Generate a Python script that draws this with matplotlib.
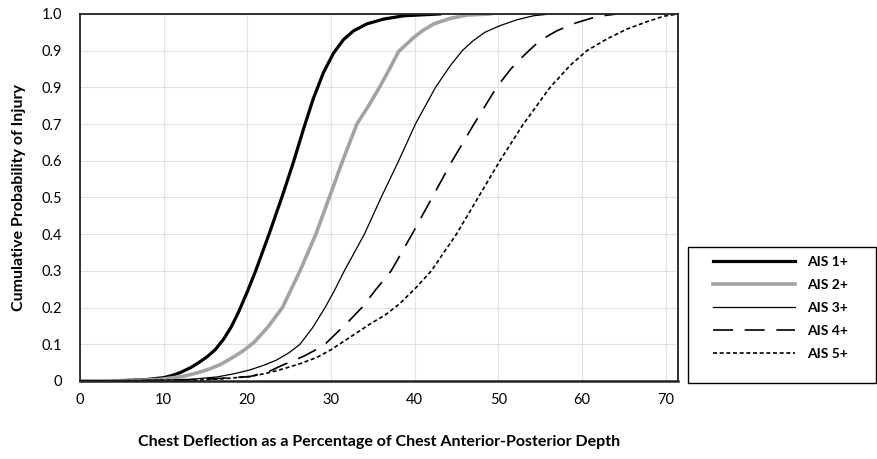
import matplotlib
matplotlib.use("Agg")
import matplotlib.pyplot as plt
from matplotlib.patches import Rectangle

# values (x = deflection %, p = cumulative probability)
ais1_x = [0, 5, 8, 10, 11, 12, 13.2, 14.2, 15.2, 16.2, 17.2, 18.1, 19.0, 20.0, 21.0, 22.6, 24.2,
          25.5, 26.7, 27.9, 29.1, 30.3, 31.5, 32.7, 34.3, 36.3, 38.7, 43]
ais1_p = [0, 0.001, 0.004, 0.009, 0.015, 0.023, 0.036, 0.05, 0.066, 0.086, 0.115, 0.148, 0.19, 0.243, 0.3,
          0.4, 0.505, 0.595, 0.685, 0.77, 0.84, 0.893, 0.93, 0.954, 0.973, 0.986, 0.995, 1.0]

ais2_x = [0, 6, 9.5, 12.2, 14, 15.4, 16.8, 18.1, 19.5, 20.8, 22.5, 24.2, 26.3, 28.2, 29.8, 31.4,
          33.1, 34.5, 35.8, 37.0, 38.1, 39.9, 41.0, 42.3, 44.3, 46.3, 49]
ais2_p = [0, 0.001, 0.004, 0.012, 0.022, 0.032, 0.045, 0.062, 0.082, 0.105, 0.148, 0.2, 0.3, 0.4, 0.5, 0.6,
          0.7, 0.75, 0.8, 0.85, 0.898, 0.936, 0.955, 0.973, 0.988, 0.997, 1.0]

ais3_x = [0, 10, 13.5, 16.4, 18.5, 20.3, 22.0, 23.5, 25.0, 26.3, 27.8, 29.3, 30.5, 31.6, 34.0, 36.0,
          38.1, 40.1, 42.5, 44.3, 45.7, 47.0, 48.4, 50.2, 52.2, 54.2, 56.2]
ais3_p = [0, 0.002, 0.005, 0.011, 0.02, 0.03, 0.043, 0.057, 0.077, 0.1, 0.145, 0.2, 0.25, 0.3, 0.4, 0.5,
          0.6, 0.7, 0.8, 0.86, 0.9, 0.927, 0.95, 0.968, 0.984, 0.995, 1.0]

ais4_x = [0, 12, 16, 20.3, 22.5, 24.3, 26.8, 29.1, 32.1, 33.7, 35.4, 37.2, 39.7, 42.1, 44.5, 47.1,
          49.8, 51.5, 53.2, 55.0, 57.0, 59.2, 61.8, 64.2]
ais4_p = [0, 0.002, 0.006, 0.012, 0.025, 0.044, 0.068, 0.096, 0.162, 0.2, 0.25, 0.3, 0.4, 0.5, 0.6, 0.7,
          0.8, 0.85, 0.89, 0.928, 0.954, 0.975, 0.993, 1.0]

ais5_x = [0, 14, 17, 20.3, 22.3, 24.3, 26.3, 28.3, 30.0, 31.0, 33.0, 34.8, 36.5, 38.2, 40.2, 42.0,
          43.5, 45.0, 47.6, 50.2, 53.0, 56.2, 58.6, 60.6, 63.0, 65.4, 67.8, 69.8, 71.5]
ais5_p = [0, 0.002, 0.006, 0.012, 0.021, 0.033, 0.047, 0.064, 0.085, 0.1, 0.13, 0.157, 0.18, 0.21, 0.255,
          0.3, 0.35, 0.4, 0.5, 0.6, 0.7, 0.8, 0.86, 0.9, 0.932, 0.959, 0.979, 0.994, 1.0]

labels = ["AIS 1+", "AIS 2+", "AIS 3+", "AIS 4+", "AIS 5+"]
x_ticks = [0, 10, 20, 30, 40, 50, 60, 70]
y_ticks = [0, 0.1, 0.2, 0.3, 0.4, 0.5, 0.6, 0.7, 0.8, 0.9, 1.0]
y_ticklabels = ["0", "0.1", "0.2", "0.3", "0.4", "0.5", "0.6", "0.7", "0.9", "0.9", "1.0"]

plt.rcParams["font.family"] = ["Lato", "DejaVu Sans"]

fig = plt.figure(figsize=(8.77, 4.59), dpi=100)
ax = fig.add_axes([0.0912, 0.170, 0.682, 0.7996])

ax.plot(ais1_x, ais1_p, color="black", lw=2.3, label=labels[0])
ax.plot(ais2_x, ais2_p, color="#a3a3a3", lw=2.6, label=labels[1])
ax.plot(ais3_x, ais3_p, color="black", lw=0.9, label=labels[2])
ax.plot(ais4_x, ais4_p, color="black", lw=1.2, dashes=(12, 7), label=labels[3])
ax.plot(ais5_x, ais5_p, color="black", lw=1.2, dashes=(2.4, 1.6), label=labels[4])

ax.set_xlim(0, 71.5)
ax.set_ylim(0, 1.0)
ax.set_xticks(x_ticks)
ax.set_yticks(y_ticks)
ax.set_yticklabels(y_ticklabels)
ax.tick_params(length=0, labelsize=10.5)
ax.tick_params(axis="x", pad=9)
ax.tick_params(axis="y", pad=13)
ax.grid(True, color="#e2e2e2", lw=0.8)
ax.set_axisbelow(True)
for s in ax.spines.values():
    s.set_color("#222222")
    s.set_linewidth(1.3)
ax.spines["bottom"].set_linewidth(1.8)

ax.set_xlabel("Chest Deflection as a Percentage of Chest Anterior-Posterior Depth",
              fontsize=11.5, fontweight="bold", labelpad=20)
ax.set_ylabel("Cumulative Probability of Injury", fontsize=11.5, fontweight="bold", labelpad=11)

# legend box drawn on its own, entries placed inside it
fig.patches.append(Rectangle((688 / 877, 1 - 383 / 459), 188 / 877, 136 / 459,
                             transform=fig.transFigure, facecolor="white",
                             edgecolor="black", lw=1.0, zorder=0))
fig.legend(loc="upper left", bbox_to_anchor=(713 / 877, 1 - 256 / 459), bbox_transform=fig.transFigure,
           borderaxespad=0, borderpad=0, handlelength=5.9, handletextpad=0.9, labelspacing=0.79,
           frameon=False, prop={"size": 10, "weight": "bold"})

fig.savefig("out.png", dpi=100)
